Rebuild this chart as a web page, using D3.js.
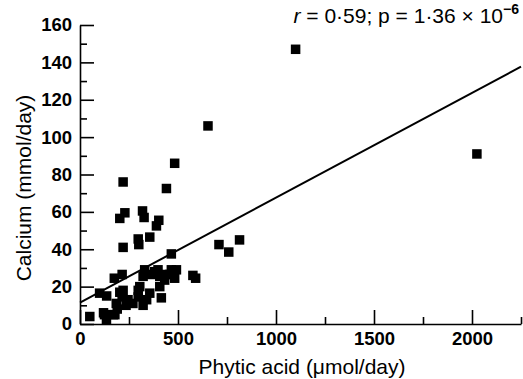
<!DOCTYPE html>
<html>
<head>
<meta charset="utf-8">
<script src="https://cdn.jsdelivr.net/npm/d3@7"></script>
<style>
  body { margin: 0; background: #fff; }
</style>
</head>
<body>
<div id="chart"></div>
<script>
// values
var phytic = [50, 125, 135, 170, 100, 136, 175, 215, 220, 215, 185, 190, 235, 245, 270,
    297, 305, 322, 330, 322, 340, 356, 365, 381, 398, 407, 407, 415, 432, 441,
    458, 466, 483, 492, 576, 590, 220, 297, 300, 356, 466, 203, 229, 319, 327,
    402, 390, 220, 441, 483, 653, 1100, 2025, 709, 759, 814, 120, 203, 297, 178];
var calcium = [4, 5, 2, 5, 16.5, 15, 24.5, 26.5, 18, 14.5, 11, 8, 10, 13, 11,
    14.5, 20, 25.5, 29, 10, 13, 16.5, 26.5, 28, 29, 25.5, 20, 14, 23.5, 26.5,
    26.5, 29, 24.5, 29, 26, 24.5, 41, 45.5, 42.5, 46.5, 37.5, 56.5, 59.5, 60.5, 57,
    55.5, 52.5, 76, 72.5, 86, 106, 147, 91, 42.5, 38.5, 45, 6, 17, 18, 5];
var xMajor = [0, 500, 1000, 1500, 2000];
var xMinor = [250, 750, 1250, 1750, 2250];
var yMajor = [0, 20, 40, 60, 80, 100, 120, 140, 160];
var yMinor = [10, 30, 50, 70, 90, 110, 130, 150];
var fitIntercept = 11.5;
var fitSlope = 0.0561;

function init() {
    var w = 523;
    var h = 379;
    var font = "Liberation Sans, Arial, sans-serif";

    var svg = d3.select("#chart")
        .append("svg")
        .attr("width", w)
        .attr("height", h);

    var x = d3.scaleLinear().domain([0, 2250]).range([80, 521]);
    var y = d3.scaleLinear().domain([0, 160]).range([324, 25]);

    // minor ticks first, no labels
    svg.append("g")
        .attr("transform", "translate(0,324)")
        .call(d3.axisBottom(x).tickValues(xMinor).tickSize(-7).tickFormat(""))
        .call(function (g) { g.select(".domain").remove(); });
    svg.append("g")
        .attr("transform", "translate(80,0)")
        .call(d3.axisLeft(y).tickValues(yMinor).tickSize(-7).tickFormat(""))
        .call(function (g) { g.select(".domain").remove(); });

    svg.append("g")
        .attr("transform", "translate(0,324)")
        .call(d3.axisBottom(x).tickValues(xMajor).tickFormat(d3.format("d"))
            .tickSize(-14).tickSizeOuter(0).tickPadding(8));
    svg.append("g")
        .attr("transform", "translate(80,0)")
        .call(d3.axisLeft(y).tickValues(yMajor).tickFormat(d3.format("d"))
            .tickSize(-14).tickSizeOuter(0).tickPadding(8));

    svg.selectAll(".tick line, .domain")
        .attr("stroke", "#000")
        .attr("stroke-width", 1.6);

    svg.selectAll(".tick text")
        .attr("font-family", font)
        .attr("font-size", "18.5px")
        .attr("font-weight", "bold")
        .attr("fill", "#000");

    // regression line
    svg.append("line")
        .attr("x1", x(0))
        .attr("y1", y(fitIntercept))
        .attr("x2", x(2250))
        .attr("y2", y(fitIntercept + fitSlope * 2250))
        .attr("stroke", "#000")
        .attr("stroke-width", 2);

    var size = 9.5;
    svg.selectAll("rect.pt")
        .data(phytic)
        .enter()
        .append("rect")
        .attr("class", "pt")
        .attr("x", function (d) { return x(d) - size / 2; })
        .attr("y", function (d, i) { return y(calcium[i]) - size / 2; })
        .attr("width", size)
        .attr("height", size)
        .attr("fill", "#000");

    // axis titles
    svg.append("text")
        .text("Phytic acid (\u03bcmol/day)")
        .attr("x", 302)
        .attr("y", 374)
        .attr("text-anchor", "middle")
        .attr("font-family", font)
        .attr("font-size", "21px");

    svg.append("text")
        .text("Calcium (mmol/day)")
        .attr("transform", "translate(31,188) rotate(-90)")
        .attr("text-anchor", "middle")
        .attr("font-family", font)
        .attr("font-size", "21px");

    // correlation note
    var note = svg.append("text")
        .attr("x", 519)
        .attr("y", 23)
        .attr("text-anchor", "end")
        .attr("font-family", font)
        .attr("font-size", "21px");
    note.append("tspan").attr("font-style", "italic").text("r");
    note.append("tspan").text(" = 0\u00b759; p = 1\u00b736 \u00d7 10");
    note.append("tspan").attr("font-size", "14px").attr("font-weight", "bold").attr("dy", -9).text("\u22126");
}
window.onload = init;
</script>
</body>
</html>
